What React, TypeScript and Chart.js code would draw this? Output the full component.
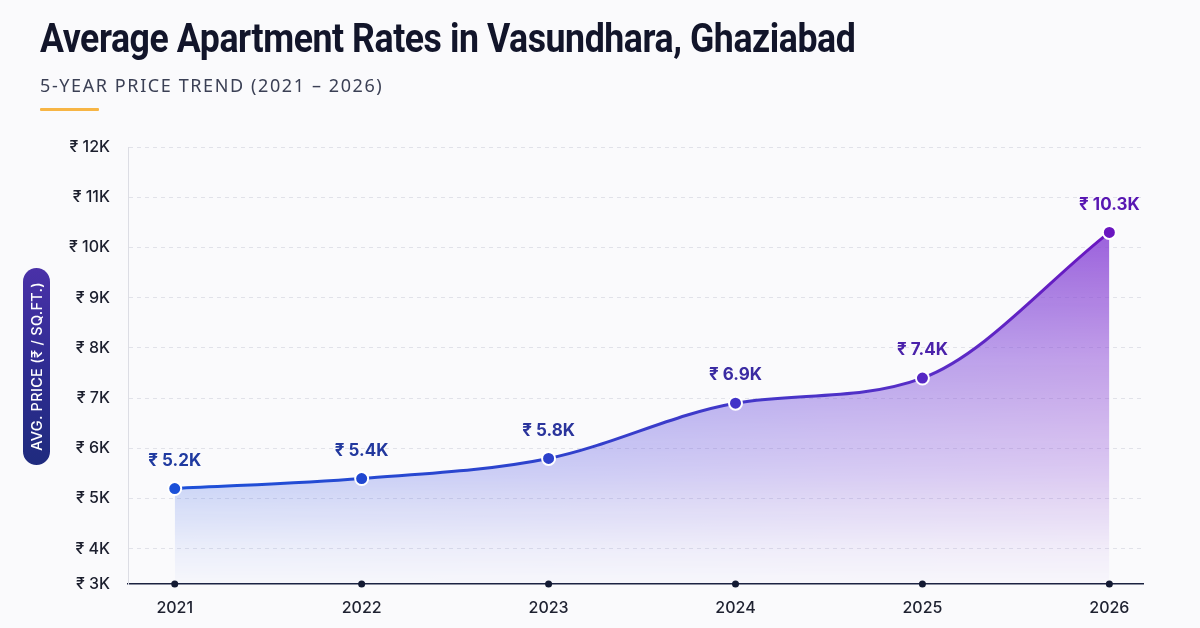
import React, { useEffect, useRef } from "react";
import { Chart, registerables } from "chart.js";

Chart.register(...registerables);

// Average apartment rate per sq.ft., in thousands of rupees
const years = [2021, 2022, 2023, 2024, 2025, 2026];
const avgPriceK = [5.2, 5.4, 5.8, 6.9, 7.4, 10.3];

// Value axis: the bottom bound sits just above 3K and is labelled "₹ 3K"
const yAxisBottom = 3.3;
const yTickValues = [4, 5, 6, 7, 8, 9, 10, 11, 12];
const yAxisTop = 12;

// Year axis bounds (a little room before the first and after the last year)
const xAxisMin = 2020.75;
const xAxisMax = 2026.18;

// Marker and value-label colours, blue shifting to violet over time
const pointColors = ["#1b50d8", "#2047d0", "#2c41cb", "#4233c8", "#5628c4", "#6a16c0"];
const labelColors = ["#1f3aa0", "#22389e", "#2a349c", "#3a2ba2", "#4a22aa", "#5816b2"];

const fontStack = "Inter, 'Noto Sans', Roboto, sans-serif";

function rupeeK(v: number, digits = 0) {
  return `₹ ${digits ? v.toFixed(digits) : Math.round(v)}K`;
}

// Small dots on the year axis at each year
const axisDots = {
  id: "axisDots",
  afterDraw(chart: any) {
    const { ctx, scales } = chart;
    const x = scales.x;
    const y = chart.chartArea.bottom;
    ctx.save();
    ctx.fillStyle = "#131a33";
    years.forEach((yr) => {
      ctx.beginPath();
      ctx.arc(x.getPixelForValue(yr), y, 3.5, 0, Math.PI * 2);
      ctx.fill();
    });
    ctx.restore();
  },
};

// Value labels above each point
const valueLabels = {
  id: "valueLabels",
  afterDatasetsDraw(chart: any) {
    const { ctx } = chart;
    const meta = chart.getDatasetMeta(0);
    ctx.save();
    ctx.font = `700 17px ${fontStack}`;
    ctx.textAlign = "center";
    ctx.textBaseline = "middle";
    meta.data.forEach((pt: any, i: number) => {
      ctx.fillStyle = labelColors[i];
      ctx.fillText(rupeeK(avgPriceK[i], 1), pt.x, pt.y - 28);
    });
    ctx.restore();
  },
};

function lineGradient(chart: any) {
  const { ctx, chartArea, scales } = chart;
  if (!chartArea) return pointColors[0];
  const x0 = scales.x.getPixelForValue(years[0]);
  const x1 = scales.x.getPixelForValue(years[years.length - 1]);
  const g = ctx.createLinearGradient(x0, 0, x1, 0);
  g.addColorStop(0, "#1d50d8");
  g.addColorStop(0.4, "#2e42cc");
  g.addColorStop(0.62, "#4436c8");
  g.addColorStop(0.82, "#5a2cc6");
  g.addColorStop(1, "#6a16c0");
  return g;
}

// Area fill: colour runs blue to violet left to right and fades out towards the axis
function areaFill(chart: any) {
  const { chartArea, scales, width, height } = chart;
  if (!chartArea) return "rgba(0,0,0,0)";
  const off = document.createElement("canvas");
  off.width = width;
  off.height = height;
  const c = off.getContext("2d")!;
  const x0 = scales.x.getPixelForValue(years[0]);
  const x1 = scales.x.getPixelForValue(years[years.length - 1]);
  const h = c.createLinearGradient(x0, 0, x1, 0);
  h.addColorStop(0, "rgb(60,100,232)");
  h.addColorStop(0.4, "rgb(88,88,226)");
  h.addColorStop(0.7, "rgb(120,80,220)");
  h.addColorStop(1, "rgb(140,72,214)");
  c.fillStyle = h;
  c.fillRect(0, 0, width, height);
  c.globalCompositeOperation = "destination-in";
  const v = c.createLinearGradient(0, chartArea.top + 70, 0, chartArea.bottom);
  v.addColorStop(0, "rgba(0,0,0,0.9)");
  v.addColorStop(0.4, "rgba(0,0,0,0.5)");
  v.addColorStop(0.7, "rgba(0,0,0,0.27)");
  v.addColorStop(0.9, "rgba(0,0,0,0.08)");
  v.addColorStop(1, "rgba(0,0,0,0.02)");
  c.fillStyle = v;
  c.fillRect(0, 0, width, height);
  return chart.ctx.createPattern(off, "no-repeat");
}

function PriceChart() {
  const ref = useRef<HTMLCanvasElement>(null);
  useEffect(() => {
    if (!ref.current) return;
    const chart = new Chart(ref.current, {
      type: "line",
      data: {
        datasets: [
          {
            data: years.map((yr, i) => ({ x: yr, y: avgPriceK[i] })),
            borderColor: (ctx: any) => lineGradient(ctx.chart),
            backgroundColor: (ctx: any) => areaFill(ctx.chart),
            fill: "start",
            borderWidth: 3,
            cubicInterpolationMode: "monotone",
            pointRadius: 6.5,
            pointBorderWidth: 2,
            pointBorderColor: "#ffffff",
            pointBackgroundColor: pointColors,
            clip: false,
          } as any,
        ],
      },
      options: {
        animation: false,
        responsive: false,
        maintainAspectRatio: false,
        layout: { padding: { top: 147, right: 57, left: 0, bottom: 0 } },
        plugins: { legend: { display: false }, tooltip: { enabled: false } },
        scales: {
          x: {
            type: "linear",
            min: xAxisMin,
            max: xAxisMax,
            afterBuildTicks: (s: any) => {
              s.ticks = years.map((v) => ({ value: v }));
            },
            afterFit: (s: any) => {
              s.height = 44;
            },
            grid: { display: false, drawTicks: false },
            border: { display: true, color: "#1b2240", width: 1.5 },
            ticks: {
              padding: 15,
              color: "#1e2130",
              font: { family: fontStack, size: 16, weight: "500" },
              callback: (v: any) => String(v),
            },
          },
          y: {
            min: yAxisBottom,
            max: yAxisTop,
            afterBuildTicks: (s: any) => {
              s.ticks = [yAxisBottom, ...yTickValues].map((v) => ({ value: v }));
            },
            afterFit: (s: any) => {
              s.width = 128;
            },
            grid: {
              drawTicks: false,
              color: (c: any) => (c.tick && c.tick.value === yAxisBottom ? "rgba(0,0,0,0)" : "#e1e2e9"),
              lineWidth: 1,
            },
            border: { display: true, color: "#dcdde4", width: 1, dash: [4, 4] },
            ticks: {
              padding: 18,
              color: "#1c1f2e",
              font: { family: fontStack, size: 16, weight: "500" },
              callback: (v: any) => rupeeK(Number(v)),
            },
          },
        },
      },
      plugins: [axisDots, valueLabels],
    });
    return () => chart.destroy();
  }, []);
  return <canvas ref={ref} width={1200} height={628} style={{ position: "absolute", left: 0, top: 0 }} />;
}

export default function App() {
  return (
    <div
      style={{
        position: "fixed",
        left: 0,
        top: 0,
        width: 1200,
        height: 628,
        background: "#fafafc",
        overflow: "hidden",
        fontFamily: fontStack,
      }}
    >
      <PriceChart />
      <div
        style={{
          position: "absolute",
          left: 40,
          top: 14,
          fontFamily: "Roboto, Inter, sans-serif",
          fontWeight: 700,
          fontSize: 41,
          color: "#12152a",
          whiteSpace: "nowrap",
          transform: "scaleX(0.87)",
          transformOrigin: "left top",
          letterSpacing: -0.5,
        }}
      >
        Average Apartment Rates in Vasundhara, Ghaziabad
      </div>
      <div
        style={{
          position: "absolute",
          left: 40,
          top: 73,
          fontFamily: "'Noto Sans', Inter, sans-serif",
          fontWeight: 400,
          fontSize: 18,
          color: "#3b4055",
          letterSpacing: 1.6,
          whiteSpace: "nowrap",
        }}
      >
        5-YEAR PRICE TREND (2021 – 2026)
      </div>
      <div
        style={{
          position: "absolute",
          left: 40,
          top: 108,
          width: 59,
          height: 3,
          background: "#f7b545",
          borderRadius: 1,
        }}
      />
      <div
        style={{
          position: "absolute",
          left: 23,
          top: 268,
          width: 27,
          height: 197,
          borderRadius: 14,
          background: "linear-gradient(180deg, #4a31a8 0%, #2f2c92 50%, #1f2b7e 100%)",
          display: "flex",
          alignItems: "center",
          justifyContent: "center",
        }}
      >
        <div
          style={{
            transform: "rotate(-90deg)",
            whiteSpace: "nowrap",
            color: "#ffffff",
            fontSize: 14.5,
            fontWeight: 500,
            letterSpacing: 0.3,
          }}
        >
          AVG. PRICE (₹ / SQ.FT.)
        </div>
      </div>
    </div>
  );
}
